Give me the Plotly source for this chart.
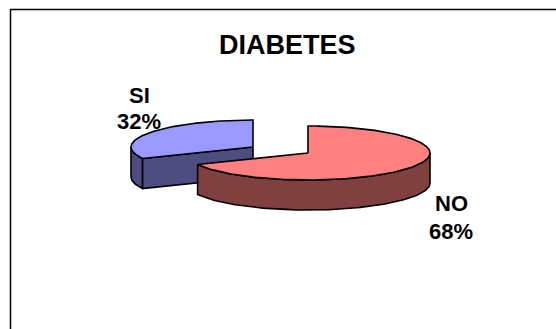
import numpy as np
import plotly.graph_objects as go

# ---- data ----
categories = ["NO", "SI"]
values = [68, 32]
percent_labels = ["68%", "32%"]
title_text = "DIABETES"

# ---- styles / layout constants (pixel space) ----
W, H = 556, 329
top_colors = {"NO": "#FF8080", "SI": "#9999FF"}
side_colors = {"NO": "#804040", "SI": "#4D4D80"}
centers = {"NO": (308, 153), "SI": (253, 147)}
RX, RY, DEPTH = 122, 27, 30

fig = go.Figure()

def pt(c, th, dz=0):
    cx, cy = c
    return cx + RX * np.cos(th), cy - RY * np.sin(th) + dz

# slice angles: first slice starts at 12 o'clock, clockwise
total = sum(values)
start = np.pi / 2
slices = []
for cat, v in zip(categories, values):
    sweep = 2 * np.pi * v / total
    a_end = start
    a_start = start - sweep
    slices.append((cat, a_start, a_end))
    start = a_start

def add_poly(xs, ys, color):
    fig.add_trace(go.Scatter(x=list(xs) + [xs[0]], y=list(ys) + [ys[0]], mode="lines",
                             fill="toself", fillcolor=color,
                             line=dict(color="black", width=1.6),
                             hoverinfo="skip", showlegend=False))

for cat, a0, a1 in sorted(slices, key=lambda s: 0 if s[0] == "SI" else 1):
    c = centers[cat]
    a0n = a0 % (2 * np.pi)
    a1n = a0n + (a1 - a0)
    lo, hi = max(a0n, np.pi), min(a1n, 2 * np.pi)
    if hi > lo:
        th = np.linspace(lo, hi, 80)
        xt, yt = pt(c, th)
        xb, yb = pt(c, th[::-1], DEPTH)
        add_poly(np.r_[xt, xb], np.r_[yt, yb], side_colors[cat])
    for ang, sign in ((a0n, -1), (a1n, 1)):
        normal = ang + sign * np.pi / 2
        if np.sin(normal) < -1e-6:
            px, py = pt(c, ang)
            cx, cy = c
            add_poly([cx, px, px, cx], [cy, py, py + DEPTH, cy + DEPTH], side_colors[cat])
    th = np.linspace(a0n, a1n, 200)
    xt, yt = pt(c, th)
    add_poly(np.r_[c[0], xt], np.r_[c[1], yt], top_colors[cat])

annotations = [
    dict(x=287, y=45, text="<b>%s</b>" % title_text, font=dict(size=27)),
    dict(x=139, y=95, text="<b>%s</b>" % categories[1], font=dict(size=22)),
    dict(x=139, y=121, text="<b>%s</b>" % percent_labels[1], font=dict(size=22)),
    dict(x=451, y=203, text="<b>%s</b>" % categories[0], font=dict(size=22)),
    dict(x=451, y=231, text="<b>%s</b>" % percent_labels[0], font=dict(size=22)),
]
for a in annotations:
    a.update(xref="x", yref="y", showarrow=False, xanchor="center", yanchor="middle")
    a["font"].update(family="Arial, Liberation Sans, sans-serif", color="black")

fig.update_layout(
    width=W, height=H, margin=dict(l=0, r=0, t=0, b=0),
    paper_bgcolor="white", plot_bgcolor="white",
    xaxis=dict(range=[0, W], visible=False, fixedrange=True),
    yaxis=dict(range=[H, 0], visible=False, fixedrange=True),
    annotations=annotations,
    shapes=[dict(type="rect", xref="x", yref="y", x0=10.5, y0=9.5, x1=W + 20, y1=H + 20,
                 line=dict(color="black", width=1.5), layer="below")],
    showlegend=False,
)
fig.write_html("out.html")
